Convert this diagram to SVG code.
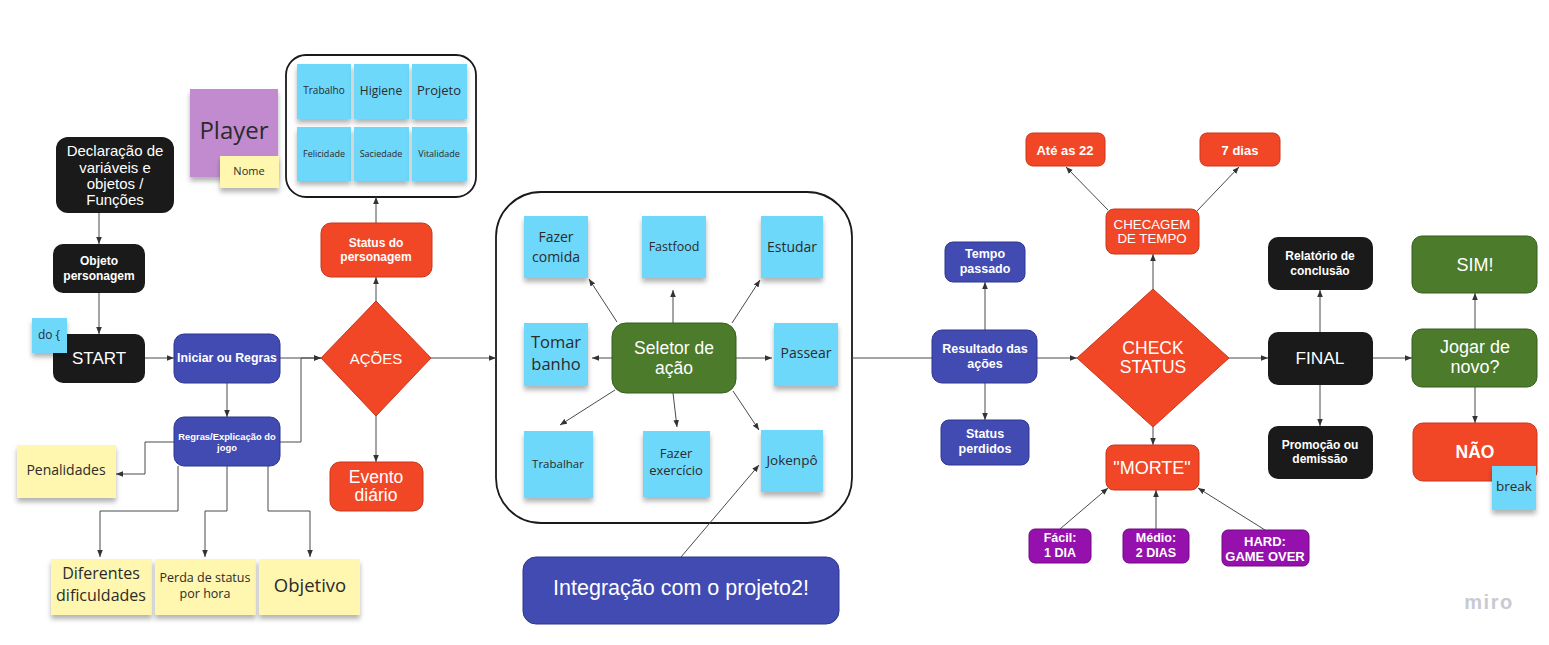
<svg xmlns="http://www.w3.org/2000/svg" width="1549" height="645" viewBox="0 0 1549 645">
<defs>
<marker id="ah" viewBox="0 0 10 10" refX="10" refY="5" markerWidth="7" markerHeight="7" markerUnits="userSpaceOnUse" orient="auto"><path d="M0,1 L10,5 L0,9 z" fill="#333"/></marker>
<filter id="sh" x="-20%" y="-20%" width="140%" height="150%"><feDropShadow dx="0" dy="4" stdDeviation="2.5" flood-color="#000" flood-opacity="0.3"/></filter>
<style>
text{font-family:"Liberation Sans",Arial,sans-serif;text-anchor:middle;dominant-baseline:central}
.w{fill:#fff}
.b{font-weight:bold}
.st{font-family:"Open Sans","Noto Sans",sans-serif;fill:#2b2b2b}
.blk{fill:#1a1a1a}
.blu{fill:#414bb2;stroke:#2f3690;stroke-width:1}
.red{fill:#f24726;stroke:#c7361a;stroke-width:1}
.grn{fill:#4b7b2b;stroke:#375d1e;stroke-width:1}
.pur{fill:#9510ac;stroke:#700a82;stroke-width:1}
.cy{fill:#6dd8fa;filter:url(#sh)}
.ye{fill:#fff6b0;filter:url(#sh)}
.vi{fill:#c28bcf;filter:url(#sh)}
.frame{fill:#fff;stroke:#1a1a1a;stroke-width:1.8}
#connectors path{fill:none;stroke:#4a4a4a;stroke-width:1}
.ar{marker-end:url(#ah)}
</style>
</defs>
<rect width="1549" height="645" fill="#fff"/>

<g id="frame-status"><rect class="frame" x="286" y="55" width="190" height="142" rx="20"/></g>
<g id="frame-seletor"><rect class="frame" x="496" y="192" width="356" height="331" rx="45"/></g>

<g id="connectors">
<path class="ar" d="M99,213 V244"/>
<path class="ar" d="M99,293 V334"/>
<path class="ar" d="M145,358 H174"/>
<path class="ar" d="M280,358 H321"/>
<path class="ar" d="M280,442 H301 V358 H321"/>
<path class="ar" d="M227,383 V417"/>
<path class="ar" d="M174,442 H145 V474 H116"/>
<path class="ar" d="M178,466 V511 H100 V557"/>
<path class="ar" d="M227,466 V511 H205 V557"/>
<path class="ar" d="M268,466 V511 H310 V557"/>
<path class="ar" d="M376,301 V277"/>
<path class="ar" d="M376,223 V197"/>
<path class="ar" d="M376,416 V462"/>
<path class="ar" d="M431,358 H496"/>
<path class="ar" d="M617,322 L589,279"/>
<path class="ar" d="M673,323 V290"/>
<path class="ar" d="M732,323 L760,280"/>
<path class="ar" d="M612,358 H592"/>
<path class="ar" d="M736,358 H772"/>
<path class="ar" d="M615,390 L560,425"/>
<path class="ar" d="M673,393 L677,427"/>
<path class="ar" d="M733,391 L759,430"/>
<path class="ar" d="M681,557 L759,465"/>
<path d="M852,358 H932"/>
<path class="ar" d="M985,330 V282"/>
<path class="ar" d="M985,383 V420"/>
<path class="ar" d="M1037,358 H1077"/>
<path class="ar" d="M1153,289 V254"/>
<path class="ar" d="M1108,210 L1066,167"/>
<path class="ar" d="M1197,211 L1239,167"/>
<path class="ar" d="M1153,427 V445"/>
<path class="ar" d="M1060,529 L1108,488"/>
<path class="ar" d="M1156,529 V490"/>
<path class="ar" d="M1265,530 L1198,488"/>
<path class="ar" d="M1229,358 H1268"/>
<path class="ar" d="M1320,332 V290"/>
<path class="ar" d="M1320,385 V426"/>
<path class="ar" d="M1373,358 H1412"/>
<path class="ar" d="M1475,329 V293"/>
<path class="ar" d="M1475,387 V423"/>
</g>

<g id="declaracao"><rect class="blk" x="56" y="137" width="118" height="76" rx="12"/>
<text class="w" font-size="15" x="115" y="150">Declaração de</text>
<text class="w" font-size="15" x="115" y="167">variáveis e</text>
<text class="w" font-size="15" x="115" y="183">objetos /</text>
<text class="w" font-size="15" x="115" y="199">Funções</text></g>

<g id="objeto"><rect class="blk" x="53" y="244" width="92" height="49" rx="10"/>
<text class="w b" font-size="12" x="99" y="261">Objeto</text>
<text class="w b" font-size="12" x="99" y="276">personagem</text></g>

<g id="start"><rect class="blk" x="53" y="334" width="92" height="49" rx="10"/>
<text class="w" font-size="17" x="99" y="358">START</text></g>

<g id="do"><rect class="cy" x="32" y="318" width="35" height="35"/>
<text class="st" font-size="12" x="49" y="334">do {</text></g>

<g id="iniciar"><rect class="blu" x="174" y="334" width="106" height="49" rx="10"/>
<text class="w b" font-size="12.3" x="227" y="358">Iniciar ou Regras</text></g>

<g id="regras"><rect class="blu" x="174" y="417" width="106" height="49" rx="10"/>
<text class="w b" font-size="9.4" x="227" y="436">Regras/Explicação do</text>
<text class="w b" font-size="9.4" x="227" y="447">jogo</text></g>

<g id="penalidades"><rect class="ye" x="17" y="445" width="99" height="53"/>
<text class="st" font-size="14" x="66" y="469">Penalidades</text></g>

<g id="diferentes"><rect class="ye" x="51" y="559" width="101" height="56"/>
<text class="st" font-size="16" x="101" y="573">Diferentes</text>
<text class="st" font-size="16" x="101" y="595">dificuldades</text></g>

<g id="perda"><rect class="ye" x="155" y="559" width="101" height="56"/>
<text class="st" font-size="12.5" x="205" y="577">Perda de status</text>
<text class="st" font-size="12.5" x="205" y="593">por hora</text></g>

<g id="objetivo"><rect class="ye" x="259" y="559" width="101" height="56"/>
<text class="st" font-size="18.5" x="310" y="584">Objetivo</text></g>

<g id="player"><rect class="vi" x="190" y="89" width="88" height="88"/>
<text class="st" font-size="24" x="234" y="129">Player</text></g>

<g id="nome"><rect class="ye" x="220" y="156" width="59" height="32"/>
<text class="st" font-size="11" x="249" y="170">Nome</text></g>

<g id="s-trabalho"><rect class="cy" x="297" y="64" width="54" height="55"/>
<text class="st" font-size="10" x="324" y="90">Trabalho</text></g>
<g id="s-higiene"><rect class="cy" x="354" y="64" width="55" height="55"/>
<text class="st" font-size="12" x="381" y="90">Higiene</text></g>
<g id="s-projeto"><rect class="cy" x="412" y="64" width="55" height="55"/>
<text class="st" font-size="13" x="439" y="90">Projeto</text></g>
<g id="s-felicidade"><rect class="cy" x="297" y="127" width="54" height="54"/>
<text class="st" font-size="9" x="324" y="153">Felicidade</text></g>
<g id="s-saciedade"><rect class="cy" x="354" y="127" width="55" height="54"/>
<text class="st" font-size="9" x="381" y="153">Saciedade</text></g>
<g id="s-vitalidade"><rect class="cy" x="412" y="127" width="55" height="54"/>
<text class="st" font-size="9" x="439" y="153">Vitalidade</text></g>

<g id="status"><rect class="red" x="321" y="223" width="111" height="54" rx="10"/>
<text class="w b" font-size="12" x="376" y="243">Status do</text>
<text class="w b" font-size="12" x="376" y="257">personagem</text></g>

<g id="acoes"><polygon class="red" points="376,301 431,358 376,416 321,358"/>
<text class="w" font-size="15" x="376" y="358">AÇÕES</text></g>

<g id="evento"><rect class="red" x="330" y="462" width="93" height="49" rx="10"/>
<text class="w" font-size="17.5" x="376" y="477">Evento</text>
<text class="w" font-size="17.5" x="376" y="495">diário</text></g>

<g id="fazer-comida"><rect class="cy" x="524" y="216" width="64" height="62"/>
<text class="st" font-size="14" x="556" y="236">Fazer</text>
<text class="st" font-size="14" x="556" y="256">comida</text></g>
<g id="fastfood"><rect class="cy" x="642" y="216" width="64" height="62"/>
<text class="st" font-size="12.5" x="674" y="246">Fastfood</text></g>
<g id="estudar"><rect class="cy" x="761" y="216" width="62" height="62"/>
<text class="st" font-size="14" x="792" y="246">Estudar</text></g>
<g id="tomar-banho"><rect class="cy" x="524" y="323" width="64" height="63"/>
<text class="st" font-size="16.5" x="556" y="341">Tomar</text>
<text class="st" font-size="16.5" x="556" y="363">banho</text></g>
<g id="passear"><rect class="cy" x="774" y="323" width="64" height="63"/>
<text class="st" font-size="14" x="806" y="352">Passear</text></g>
<g id="trabalhar"><rect class="cy" x="524" y="431" width="69" height="67"/>
<text class="st" font-size="11.5" x="558" y="463">Trabalhar</text></g>
<g id="fazer-exercicio"><rect class="cy" x="643" y="431" width="67" height="66"/>
<text class="st" font-size="13" x="676" y="453">Fazer</text>
<text class="st" font-size="13" x="676" y="470">exercício</text></g>
<g id="jokenpo"><rect class="cy" x="761" y="430" width="62" height="62"/>
<text class="st" font-size="13.5" x="792" y="460">Jokenpô</text></g>

<g id="seletor"><rect class="grn" x="612" y="323" width="124" height="70" rx="14"/>
<text class="w" font-size="17.5" x="674" y="348">Seletor de</text>
<text class="w" font-size="17.5" x="674" y="368">ação</text></g>

<g id="integracao"><rect class="blu" x="523" y="557" width="316" height="67" rx="13"/>
<text class="w" font-size="21.5" x="681" y="588">Integração com o projeto2!</text></g>

<g id="resultado"><rect class="blu" x="932" y="330" width="105" height="53" rx="10"/>
<text class="w b" font-size="12.5" x="985" y="349">Resultado das</text>
<text class="w b" font-size="12.5" x="985" y="364">ações</text></g>

<g id="tempo"><rect class="blu" x="945" y="242" width="80" height="40" rx="8"/>
<text class="w b" font-size="12.5" x="985" y="254">Tempo</text>
<text class="w b" font-size="12.5" x="985" y="269">passado</text></g>

<g id="status-perdidos"><rect class="blu" x="941" y="420" width="88" height="45" rx="8"/>
<text class="w b" font-size="12.5" x="985" y="434">Status</text>
<text class="w b" font-size="12.5" x="985" y="449">perdidos</text></g>

<g id="check"><polygon class="red" points="1153,289 1229,358 1153,427 1077,358"/>
<text class="w" font-size="17.5" x="1153" y="348">CHECK</text>
<text class="w" font-size="17.5" x="1153" y="367">STATUS</text></g>

<g id="checagem"><rect class="red" x="1106" y="209" width="93" height="45" rx="8"/>
<text class="w" font-size="13.3" x="1152" y="224">CHECAGEM</text>
<text class="w" font-size="13.3" x="1152" y="238">DE TEMPO</text></g>

<g id="ate22"><rect class="red" x="1026" y="133" width="79" height="33" rx="7"/>
<text class="w b" font-size="13" x="1065" y="150">Até as 22</text></g>

<g id="setedias"><rect class="red" x="1200" y="133" width="80" height="33" rx="7"/>
<text class="w b" font-size="13" x="1240" y="150">7 dias</text></g>

<g id="morte"><rect class="red" x="1106" y="445" width="93" height="45" rx="8"/>
<text class="w" font-size="18" x="1152" y="468">"MORTE"</text></g>

<g id="facil"><rect class="pur" x="1029" y="529" width="62" height="34" rx="6"/>
<text class="w b" font-size="12.5" x="1060" y="538">Fácil:</text>
<text class="w b" font-size="12.5" x="1060" y="553">1 DIA</text></g>

<g id="medio"><rect class="pur" x="1123" y="529" width="66" height="34" rx="6"/>
<text class="w b" font-size="12.5" x="1156" y="538">Médio:</text>
<text class="w b" font-size="12.5" x="1156" y="553">2 DIAS</text></g>

<g id="hard"><rect class="pur" x="1222" y="530" width="87" height="36" rx="6"/>
<text class="w b" font-size="13" x="1265" y="541">HARD:</text>
<text class="w b" font-size="13" x="1265" y="556">GAME OVER</text></g>

<g id="relatorio"><rect class="blk" x="1268" y="237" width="105" height="53" rx="10"/>
<text class="w b" font-size="12" x="1320" y="256">Relatório de</text>
<text class="w b" font-size="12" x="1320" y="271">conclusão</text></g>

<g id="final"><rect class="blk" x="1268" y="332" width="105" height="53" rx="10"/>
<text class="w" font-size="17.3" x="1320" y="358">FINAL</text></g>

<g id="promocao"><rect class="blk" x="1268" y="426" width="105" height="53" rx="10"/>
<text class="w b" font-size="12" x="1320" y="445">Promoção ou</text>
<text class="w b" font-size="12" x="1320" y="459">demissão</text></g>

<g id="sim"><rect class="grn" x="1412" y="236" width="125" height="57" rx="10"/>
<text class="w" font-size="18" x="1475" y="265">SIM!</text></g>

<g id="jogar"><rect class="grn" x="1412" y="329" width="125" height="58" rx="10"/>
<text class="w" font-size="18" x="1475" y="347">Jogar de</text>
<text class="w" font-size="18" x="1475" y="367">novo?</text></g>

<g id="nao"><rect class="red" x="1413" y="423" width="124" height="58" rx="10"/>
<text class="w b" font-size="17.5" x="1475" y="452">NÃO</text></g>

<g id="break"><rect class="cy" x="1492" y="466" width="44" height="44"/>
<text class="st" font-size="13.5" x="1514" y="486">break</text></g>

<text x="1489" y="602" font-size="20" font-weight="bold" fill="#c8c9d3" letter-spacing="1.5">miro</text>
</svg>
